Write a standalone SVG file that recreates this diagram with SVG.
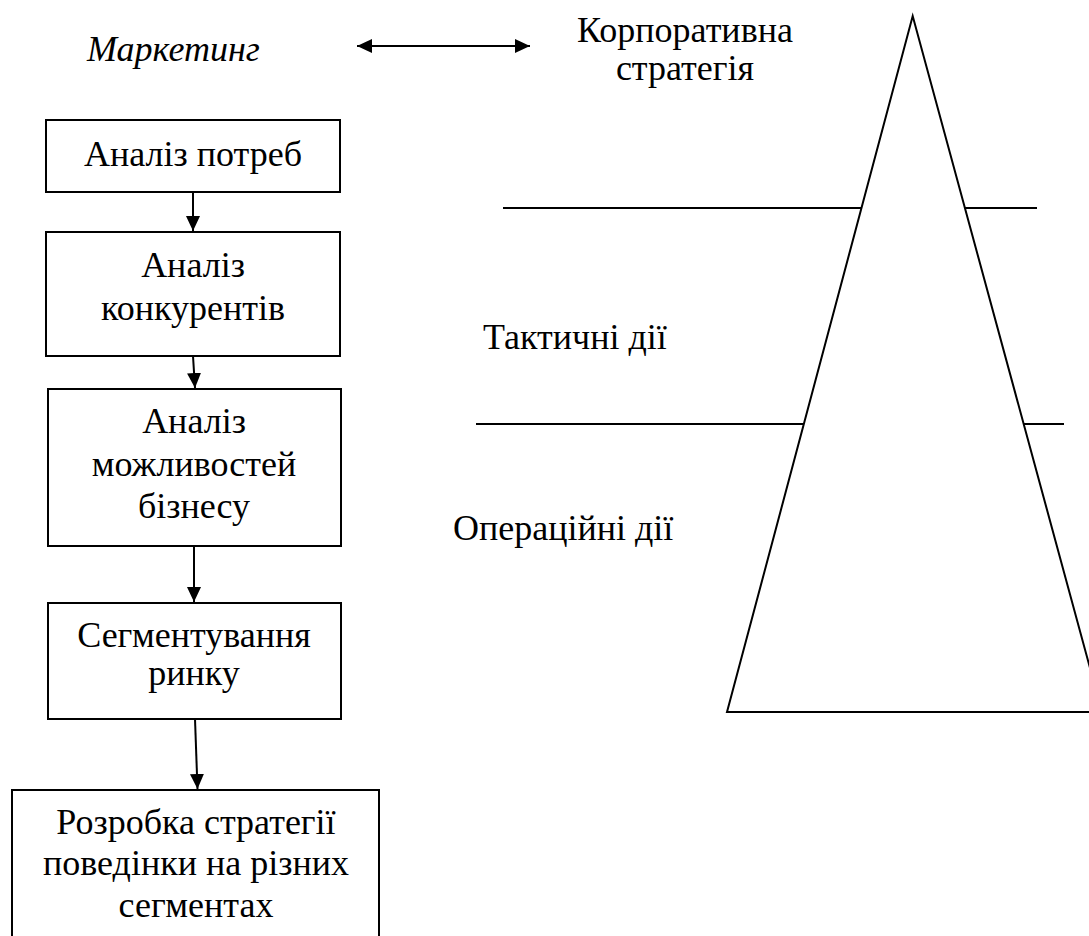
<svg xmlns="http://www.w3.org/2000/svg" width="1089" height="936" viewBox="0 0 1089 936">
  <defs>
    <marker id="arrow" markerUnits="userSpaceOnUse" markerWidth="16" markerHeight="14" refX="15" refY="7" orient="auto-start-reverse">
      <path d="M0,0 L15,7 L0,14 Z" fill="#000"/>
    </marker>
  </defs>
  <rect width="1089" height="936" fill="#fff"/>

  <!-- header labels -->
  <g id="marketing">
    <text x="87" y="61" font-family="Liberation Serif" font-size="36" font-style="italic">Маркетинг</text>
  </g>
  <g id="corporate-strategy">
    <text x="685" y="42" font-family="Liberation Serif" font-size="36" text-anchor="middle">Корпоративна</text>
    <text x="685" y="80" font-family="Liberation Serif" font-size="36" text-anchor="middle">стратегія</text>
  </g>

  <!-- flow boxes -->
  <g id="needs-analysis">
    <rect x="46" y="120" width="294" height="72" fill="#fff" stroke="#000" stroke-width="2"/>
    <text x="193" y="166" font-family="Liberation Serif" font-size="36" text-anchor="middle">Аналіз потреб</text>
  </g>
  <g id="competitor-analysis">
    <rect x="46" y="232" width="294" height="124" fill="#fff" stroke="#000" stroke-width="2"/>
    <text x="193" y="277" font-family="Liberation Serif" font-size="36" text-anchor="middle">Аналіз</text>
    <text x="193" y="320" font-family="Liberation Serif" font-size="36" text-anchor="middle">конкурентів</text>
  </g>
  <g id="business-opportunities">
    <rect x="48" y="389" width="293" height="157" fill="#fff" stroke="#000" stroke-width="2"/>
    <text x="194" y="433" font-family="Liberation Serif" font-size="36" text-anchor="middle">Аналіз</text>
    <text x="194" y="476" font-family="Liberation Serif" font-size="36" text-anchor="middle">можливостей</text>
    <text x="194" y="518" font-family="Liberation Serif" font-size="36" text-anchor="middle">бізнесу</text>
  </g>
  <g id="segmentation">
    <rect x="48" y="603" width="293" height="116" fill="#fff" stroke="#000" stroke-width="2"/>
    <text x="194" y="647" font-family="Liberation Serif" font-size="36" text-anchor="middle">Сегментування</text>
    <text x="194" y="685" font-family="Liberation Serif" font-size="36" text-anchor="middle">ринку</text>
  </g>
  <g id="segment-strategy">
    <rect x="12" y="790" width="367" height="150" fill="#fff" stroke="#000" stroke-width="2"/>
    <text x="196" y="834" font-family="Liberation Serif" font-size="36" text-anchor="middle">Розробка стратегії</text>
    <text x="196" y="875" font-family="Liberation Serif" font-size="36" text-anchor="middle">поведінки на різних</text>
    <text x="196" y="917" font-family="Liberation Serif" font-size="36" text-anchor="middle">сегментах</text>
  </g>

  <!-- pyramid with level dividers -->
  <g id="pyramid" fill="none" stroke="#000" stroke-width="2">
    <polyline points="1102,712 727,712 912.7,16 1102,712"/>
    <line x1="503" y1="208" x2="862" y2="208"/>
    <line x1="965" y1="208" x2="1037" y2="208"/>
    <line x1="476" y1="424" x2="804" y2="424"/>
    <line x1="1023" y1="424" x2="1064" y2="424"/>
  </g>
  <g id="tactical">
    <text x="483" y="349" font-family="Liberation Serif" font-size="36">Тактичні дії</text>
  </g>
  <g id="operational">
    <text x="453" y="540" font-family="Liberation Serif" font-size="36">Операційні дії</text>
  </g>

  <!-- connectors -->
  <g id="connectors" fill="none" stroke="#000" stroke-width="2">
    <line x1="357" y1="46" x2="530" y2="46" marker-start="url(#arrow)" marker-end="url(#arrow)"/>
    <line x1="193" y1="192" x2="193" y2="231" marker-end="url(#arrow)"/>
    <line x1="193" y1="356" x2="195" y2="388" marker-end="url(#arrow)"/>
    <line x1="194" y1="546" x2="194" y2="602" marker-end="url(#arrow)"/>
    <line x1="195" y1="719" x2="197.5" y2="789" marker-end="url(#arrow)"/>
  </g>
</svg>
